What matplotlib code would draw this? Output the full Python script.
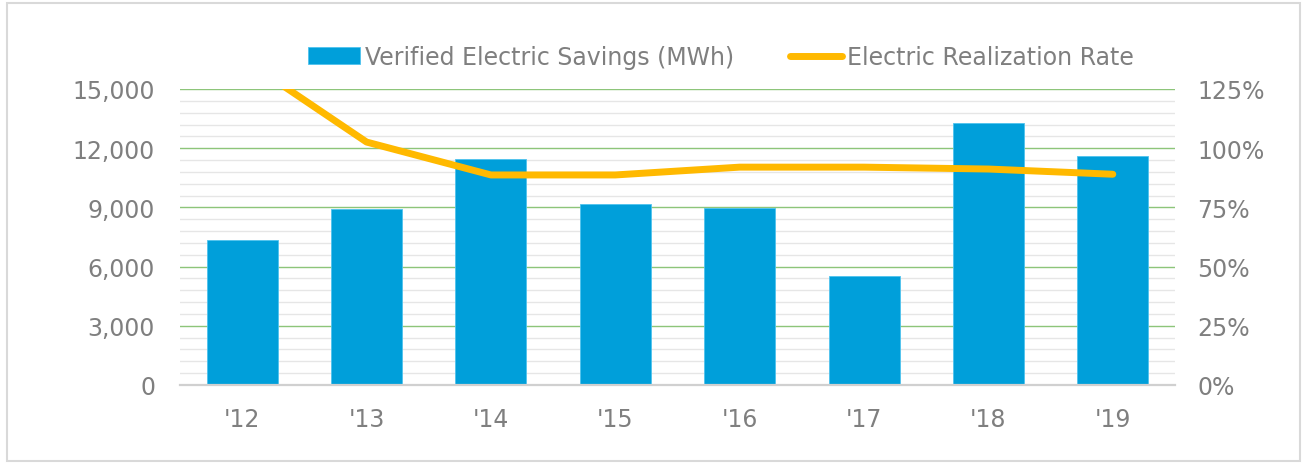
import matplotlib
matplotlib.use("Agg")
import matplotlib.pyplot as plt
from matplotlib.ticker import FuncFormatter, MultipleLocator
from matplotlib.patches import Rectangle

years = ["'12", "'13", "'14", "'15", "'16", "'17", "'18", "'19"]
savings_mwh = [7350, 8900, 11450, 9170, 8970, 5520, 13280, 11600]
realization_rate = [1.38, 1.026, 0.887, 0.887, 0.92, 0.92, 0.912, 0.89]

bar_color = "#009FDA"
line_color = "#FFB900"
text_color = "#7F7F7F"

fig = plt.figure(figsize=(13.09, 4.64), dpi=100)
fig.patches.append(Rectangle((7/1309, 2/464), 1293/1309, 458/464, transform=fig.transFigure,
                             fill=False, edgecolor="#D9D9D9", linewidth=1.5))

ax = fig.add_axes([180/1309, (464-386)/464, 995/1309, 296/464])
x = list(range(len(years)))
bars = ax.bar(x, savings_mwh, width=0.57, color=bar_color, edgecolor="#4FC3EE", linewidth=0.6,
              zorder=3, label="Verified Electric Savings (MWh)")
ax.set_xlim(-0.5, len(years) - 0.5)
ax.set_ylim(0, 15000)
ax.yaxis.set_major_locator(MultipleLocator(3000))
ax.yaxis.set_minor_locator(MultipleLocator(600))
ax.yaxis.set_major_formatter(FuncFormatter(lambda v, p: f"{int(v):,}"))
ax.grid(axis="y", which="major", color="#8DC57A", linewidth=1.0, zorder=1)
ax.grid(axis="y", which="minor", color="#E6E6E6", linewidth=1.0, zorder=0)
ax.set_xticks(x)
ax.set_xticklabels(years)
for s in ["top", "left", "right"]:
    ax.spines[s].set_visible(False)
ax.spines["bottom"].set_color("#D0D0D0")
ax.spines["bottom"].set_linewidth(1.6)
ax.spines["bottom"].set_zorder(4)
ax.tick_params(axis="both", which="both", length=0, colors=text_color, labelsize=17)
ax.tick_params(axis="y", pad=18)
ax.tick_params(axis="x", pad=16)

ax2 = ax.twinx()
line, = ax2.plot(x, realization_rate, color=line_color, linewidth=5, solid_capstyle="round",
                 label="Electric Realization Rate", zorder=5)
ax2.set_ylim(0, 1.25)
ax2.yaxis.set_major_locator(MultipleLocator(0.25))
ax2.yaxis.set_major_formatter(FuncFormatter(lambda v, p: f"{int(round(v*100))}%"))
for s in ["top", "left", "right", "bottom"]:
    ax2.spines[s].set_visible(False)
ax2.tick_params(axis="y", length=0, colors=text_color, labelsize=17, pad=16)

leg = fig.legend([bars, line], ["Verified Electric Savings (MWh)", "Electric Realization Rate"],
                 loc="center", bbox_to_anchor=(721/1309, (464-58)/464), ncol=2, frameon=False,
                 fontsize=17, handlelength=2.2, handleheight=0.7, columnspacing=2.4, handletextpad=0.2)
for t in leg.get_texts():
    t.set_color(text_color)

fig.savefig("out.png", dpi=100)
